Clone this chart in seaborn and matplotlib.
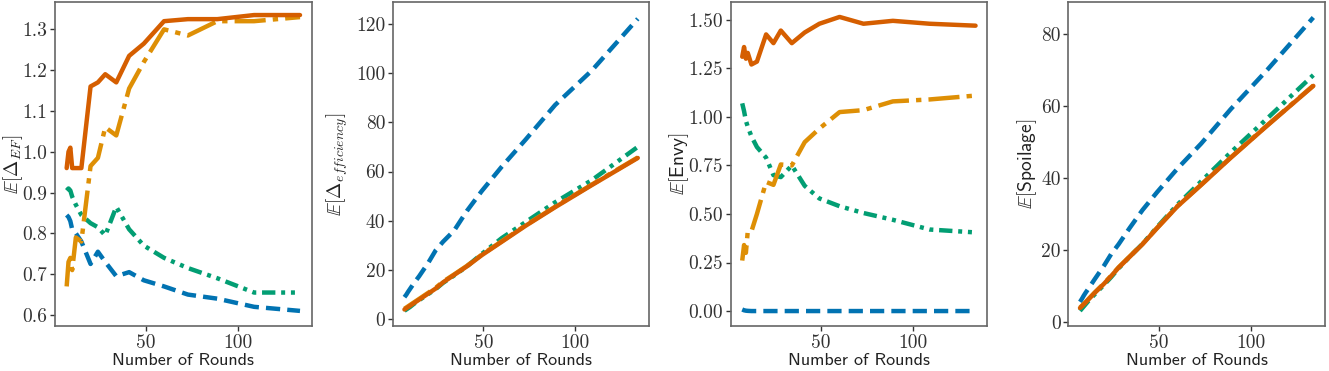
import matplotlib
matplotlib.use("Agg")
import matplotlib.pyplot as plt
import pandas as pd
import seaborn as sns

# number of rounds (x positions shared by all panels)
rounds = [7, 8, 9, 10, 12, 15, 20, 24, 28, 34, 41, 49, 60, 73, 89, 109, 134]

methods = ["method_a", "method_b", "method_c", "method_d"]
colors = {"method_a": "#0173B2", "method_b": "#029E73", "method_c": "#DE8F05", "method_d": "#D55E00"}
dashes = {
    "method_a": (3.2, 1.6),
    "method_b": (3.0, 1.3, 0.9, 1.3, 0.9, 1.3),
    "method_c": (7.0, 1.6, 1.2, 1.6),
    "method_d": "",
}

# panel 1: E[Delta_EF]
ef_a = [0.845, 0.84, 0.83, 0.81, 0.80, 0.78, 0.725, 0.755, 0.73, 0.695, 0.705, 0.685, 0.67, 0.65, 0.64, 0.62, 0.61]
ef_b = [0.905, 0.91, 0.905, 0.89, 0.87, 0.845, 0.825, 0.815, 0.795, 0.865, 0.81, 0.77, 0.74, 0.715, 0.69, 0.655, 0.655]
ef_c = [0.67, 0.73, 0.74, 0.71, 0.79, 0.78, 0.965, 0.985, 1.06, 1.04, 1.155, 1.22, 1.30, 1.285, 1.32, 1.32, 1.33]
ef_d = [0.96, 1.00, 1.01, 0.96, 0.96, 0.96, 1.16, 1.17, 1.19, 1.17, 1.235, 1.265, 1.32, 1.325, 1.325, 1.335, 1.335]

# panel 2: E[Delta_efficiency]
eff_a = [9, 10, 11.2, 12.3, 14.5, 17.5, 23, 28, 31.5, 36, 44, 52, 62, 73, 87, 101, 122]
eff_b = [3.5, 4, 4.5, 5, 6.2, 7.8, 10.3, 12.3, 14.8, 17.8, 21.5, 26.5, 33, 39.5, 47.5, 56.5, 70]
eff_c = [4.3, 4.8, 5.3, 5.8, 6.8, 8.3, 10.8, 12.8, 15.3, 18.2, 21.7, 26.2, 31.7, 38.2, 45.7, 54.7, 65.7]
eff_d = [4.0, 4.5, 5.0, 5.5, 6.5, 8.0, 10.5, 12.5, 15.0, 18.0, 21.5, 26.0, 31.5, 38.0, 45.5, 54.5, 65.5]

# panel 3: E[Envy]
envy_a = [0.008, 0.004, 0.002, 0.001, 0, 0, 0, 0, 0, 0, 0, 0, 0, 0, 0, 0, 0]
envy_b = [1.07, 1.03, 0.98, 0.95, 0.90, 0.845, 0.79, 0.70, 0.69, 0.75, 0.645, 0.58, 0.54, 0.505, 0.47, 0.42, 0.405]
envy_c = [0.26, 0.34, 0.30, 0.41, 0.41, 0.50, 0.665, 0.65, 0.755, 0.75, 0.87, 0.94, 1.025, 1.035, 1.08, 1.09, 1.11]
envy_d = [1.31, 1.36, 1.30, 1.33, 1.27, 1.285, 1.425, 1.38, 1.445, 1.38, 1.435, 1.48, 1.515, 1.48, 1.495, 1.48, 1.47]

# panel 4: E[Spoilage]
sp_a = [5.5, 6.3, 7.2, 8.0, 9.5, 11.8, 15.5, 18.8, 21.5, 26, 31, 36, 42.5, 49.5, 59, 70, 84.5]
sp_b = [3.0, 3.6, 4.2, 4.8, 6.0, 7.6, 10.2, 12.4, 14.8, 18.0, 21.6, 26.3, 32.5, 39.0, 47.0, 56.5, 68.5]
sp_c = [3.9, 4.4, 4.9, 5.4, 6.5, 8.1, 10.6, 12.8, 15.1, 18.1, 21.6, 26.1, 32.1, 38.1, 45.6, 54.6, 65.6]
sp_d = [3.8, 4.3, 4.8, 5.3, 6.4, 8.0, 10.5, 12.7, 15.0, 18.0, 21.5, 26.0, 32.0, 38.0, 45.5, 54.5, 65.5]

panels = [
    (r"$\mathbb{E}[\Delta_{\mathit{EF}}]$", [ef_a, ef_b, ef_c, ef_d], (0.573, 1.367), [0.6, 0.7, 0.8, 0.9, 1.0, 1.1, 1.2, 1.3], "{:.1f}", -0.118),
    (r"$\mathbb{E}[\Delta_{\mathit{efficiency}}]$", [eff_a, eff_b, eff_c, eff_d], (-2.7, 128.8), [0, 20, 40, 60, 80, 100, 120], "{:.0f}", -0.168),
    (r"$\mathbb{E}[\mathsf{Envy}]$", [envy_a, envy_b, envy_c, envy_d], (-0.077, 1.592), [0.0, 0.25, 0.5, 0.75, 1.0, 1.25, 1.5], "{:.2f}", -0.156),
    (r"$\mathbb{E}[\mathsf{Spoilage}]$", [sp_a, sp_b, sp_c, sp_d], (-1.2, 88.8), [0, 20, 40, 60, 80], "{:.0f}", -0.113),
]


def main() -> None:
    sns.set_theme(style="ticks")
    plt.rcParams["font.family"] = ["cmr10", "DejaVu Serif"]
    plt.rcParams["mathtext.fontset"] = "cm"
    plt.rcParams["axes.unicode_minus"] = False
    plt.rcParams["axes.edgecolor"] = "#666666"
    plt.rcParams["axes.linewidth"] = 1.2
    plt.rcParams["xtick.color"] = "#333333"
    plt.rcParams["ytick.color"] = "#333333"

    fig, axes = plt.subplots(1, 4, figsize=(13.29, 3.71), dpi=100)
    fig.subplots_adjust(left=55 / 1329, right=1325 / 1329, top=1 - 2 / 371, bottom=1 - 326 / 371, wspace=0.316)

    for ax, (ylabel, series, ylim, yticks, fmt, label_x) in zip(axes, panels):
        rows = []
        for m, vals in zip(methods, series):
            for x, y in zip(rounds, vals):
                rows.append({"method": m, "rounds": x, "value": y})
        df = pd.DataFrame(rows)
        sns.lineplot(data=df, x="rounds", y="value", hue="method", style="method",
                     hue_order=methods, style_order=methods, palette=colors, dashes=dashes,
                     linewidth=3.2, legend=False, ax=ax)
        ax.set_ylim(*ylim)
        ax.set_yticks(yticks)
        ax.set_yticklabels([fmt.format(t) for t in yticks], fontsize=14, color="#333333")
        ax.set_xticks([50, 100])
        ax.set_xticklabels(["50", "100"], fontsize=14, color="#333333")
        ax.set_ylabel(ylabel, fontsize=14, color="#222222")
        ax.yaxis.set_label_coords(label_x, 0.5)
        ax.set_xlabel("Number of Rounds", fontsize=13, family="cmss10", color="#222222", labelpad=1)
        ax.tick_params(length=3.5, width=1, pad=2)
        for s in ax.spines.values():
            s.set_visible(True)

    fig.savefig("out.png", dpi=100)
    plt.close(fig)


if __name__ == "__main__":
    main()
